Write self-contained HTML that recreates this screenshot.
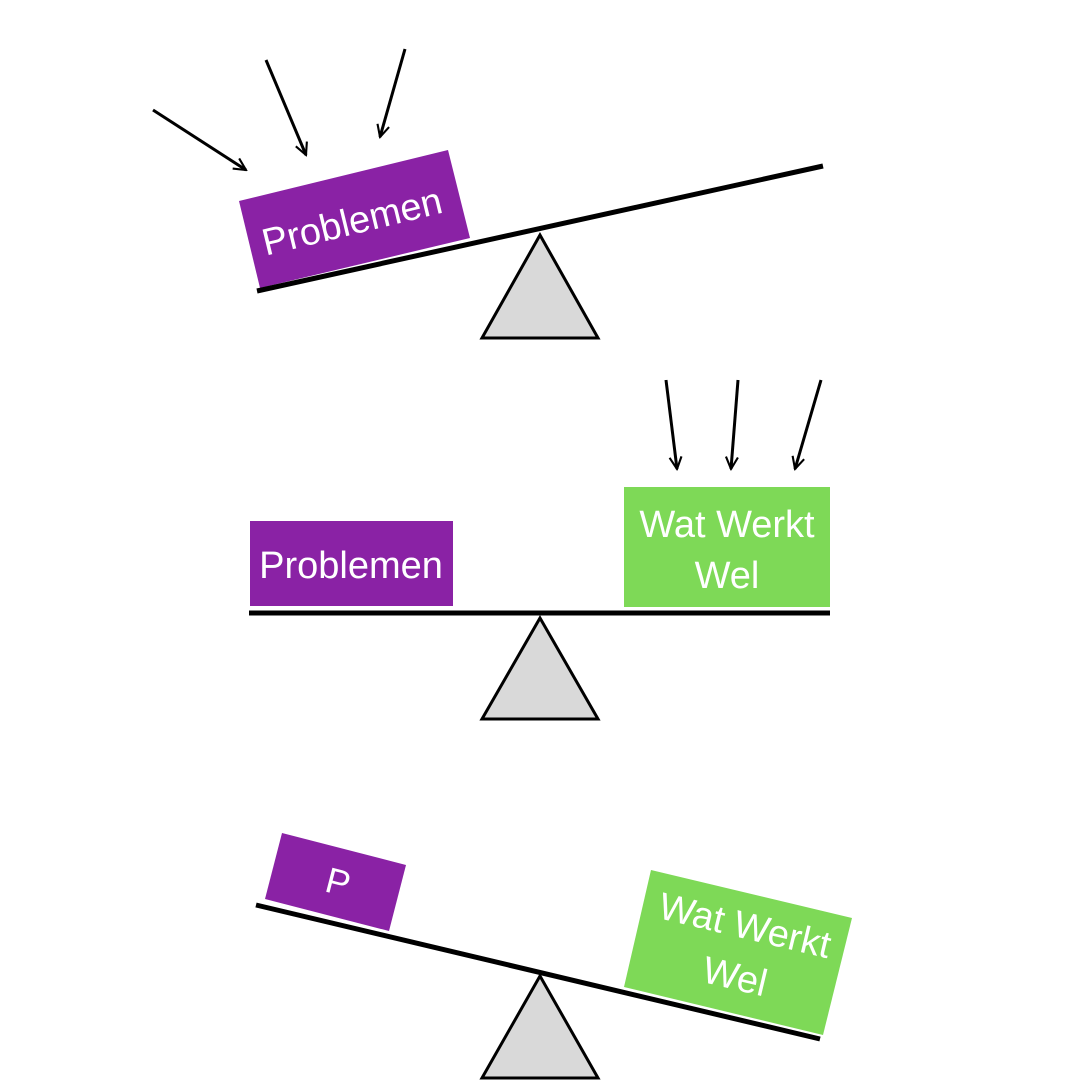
<!DOCTYPE html>
<html><head><meta charset="utf-8"><style>
html,body{margin:0;padding:0;background:#fff;}
svg{display:block;}
text{font-family:"Liberation Sans",sans-serif;fill:#fff;}
</style></head><body>
<svg width="1080" height="1080" viewBox="0 0 1080 1080" xmlns="http://www.w3.org/2000/svg">
<defs>
<marker id="ah" viewBox="0 0 10 10" refX="9" refY="5" markerWidth="5" markerHeight="5" orient="auto" markerUnits="strokeWidth">
<path d="M1,1 L9,5 L1,9" fill="none" stroke="#000" stroke-width="1.4"/>
</marker>
</defs>
<!-- TOP -->
<line x1="153" y1="110" x2="246" y2="170" stroke="#000" stroke-width="3" marker-end="url(#ah)"/>
<line x1="266" y1="60" x2="306" y2="155" stroke="#000" stroke-width="3" marker-end="url(#ah)"/>
<line x1="405" y1="49" x2="380" y2="137" stroke="#000" stroke-width="3" marker-end="url(#ah)"/>
<polygon points="239,201 448,150 470,238 260,288" fill="#8a22a5"/>
<text x="355" y="234" font-size="38" text-anchor="middle" transform="rotate(-13.7 355 234)">Problemen</text>
<line x1="257" y1="291" x2="823" y2="166" stroke="#000" stroke-width="5"/>
<polygon points="540,235 482,338 598,338" fill="#d9d9d9" stroke="#000" stroke-width="3"/>
<!-- MIDDLE -->
<line x1="666" y1="380" x2="677" y2="469" stroke="#000" stroke-width="3" marker-end="url(#ah)"/>
<line x1="738" y1="380" x2="731" y2="469" stroke="#000" stroke-width="3" marker-end="url(#ah)"/>
<line x1="821" y1="380" x2="795" y2="469" stroke="#000" stroke-width="3" marker-end="url(#ah)"/>
<rect x="250" y="521" width="203" height="85" fill="#8a22a5"/>
<text x="351" y="578" font-size="38" text-anchor="middle">Problemen</text>
<rect x="624" y="487" width="206" height="120" fill="#7ed957"/>
<text x="727" y="537" font-size="38" text-anchor="middle">Wat Werkt</text>
<text x="727" y="588" font-size="38" text-anchor="middle">Wel</text>
<line x1="249" y1="613" x2="830" y2="613" stroke="#000" stroke-width="5"/>
<polygon points="540,618 482,719 598,719" fill="#d9d9d9" stroke="#000" stroke-width="3"/>
<!-- BOTTOM -->
<polygon points="282,833 406,865 389,931 265,899" fill="#8a22a5"/>
<text x="335" y="894" font-size="36" text-anchor="middle" transform="rotate(14.5 335 894)">P</text>
<polygon points="651,870 852,918 823,1035 624,987" fill="#7ed957"/>
<text x="742" y="938" font-size="38" text-anchor="middle" transform="rotate(13.4 742 938)">Wat Werkt</text>
<text x="732" y="989" font-size="38" text-anchor="middle" transform="rotate(13.4 732 989)">Wel</text>
<line x1="256" y1="905" x2="820" y2="1039" stroke="#000" stroke-width="5"/>
<polygon points="540,976 482,1078 598,1078" fill="#d9d9d9" stroke="#000" stroke-width="3"/>
</svg>
</body></html>
